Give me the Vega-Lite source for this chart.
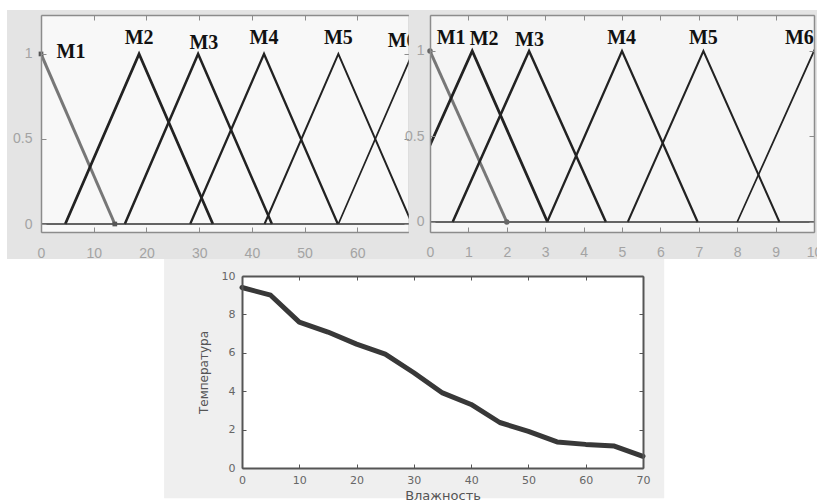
{
  "$schema": "https://vega.github.io/schema/vega-lite/v6.json",
  "padding": {"left": 6, "top": 9, "right": 0, "bottom": 0},
  "background": "white",
  "spacing": -2,
  "config": {"view": {"stroke": null}},
  "datasets": {
    "mfA": [
      {"mf": "M1", "x": 0, "y": 1}, {"mf": "M1", "x": 14, "y": 0},
      {"mf": "M2", "x": 4.6, "y": 0}, {"mf": "M2", "x": 18.6, "y": 1}, {"mf": "M2", "x": 32.6, "y": 0},
      {"mf": "M3", "x": 15.9, "y": 0}, {"mf": "M3", "x": 29.8, "y": 1}, {"mf": "M3", "x": 43.8, "y": 0},
      {"mf": "M4", "x": 28.3, "y": 0}, {"mf": "M4", "x": 42.3, "y": 1}, {"mf": "M4", "x": 56.3, "y": 0},
      {"mf": "M5", "x": 42.4, "y": 0}, {"mf": "M5", "x": 56.4, "y": 1}, {"mf": "M5", "x": 70.4, "y": 0},
      {"mf": "M6", "x": 56.4, "y": 0}, {"mf": "M6", "x": 70.4, "y": 1}, {"mf": "M6", "x": 84.4, "y": 0},
      {"mf": "base", "x": 0, "y": 0}, {"mf": "base", "x": 70, "y": 0}
    ],
    "labA": [
      {"t": "M1", "x": 5.7, "y": 0.976},
      {"t": "M2", "x": 18.6, "y": 1.06},
      {"t": "M3", "x": 30.9, "y": 1.03},
      {"t": "M4", "x": 42.3, "y": 1.06},
      {"t": "M5", "x": 56.4, "y": 1.06},
      {"t": "M6", "x": 68.5, "y": 1.04}
    ],
    "mfB": [
      {"mf": "M1", "x": 0, "y": 1}, {"mf": "M1", "x": 2, "y": 0},
      {"mf": "M2", "x": -0.9, "y": 0}, {"mf": "M2", "x": 1.1, "y": 1}, {"mf": "M2", "x": 3.06, "y": 0},
      {"mf": "M3", "x": 0.59, "y": 0}, {"mf": "M3", "x": 2.58, "y": 1}, {"mf": "M3", "x": 4.58, "y": 0},
      {"mf": "M4", "x": 3.05, "y": 0}, {"mf": "M4", "x": 5.0, "y": 1}, {"mf": "M4", "x": 6.97, "y": 0},
      {"mf": "M5", "x": 5.15, "y": 0}, {"mf": "M5", "x": 7.12, "y": 1}, {"mf": "M5", "x": 9.1, "y": 0},
      {"mf": "M6", "x": 8.0, "y": 0}, {"mf": "M6", "x": 10.0, "y": 1}, {"mf": "M6", "x": 12.0, "y": 0},
      {"mf": "base", "x": 0, "y": 0}, {"mf": "base", "x": 10, "y": 0}
    ],
    "labB": [
      {"t": "M1", "x": 0.55, "y": 1.04},
      {"t": "M2", "x": 1.41, "y": 1.035},
      {"t": "M3", "x": 2.59, "y": 1.03},
      {"t": "M4", "x": 4.99, "y": 1.04},
      {"t": "M5", "x": 7.12, "y": 1.04},
      {"t": "M6", "x": 9.62, "y": 1.04}
    ],
    "temp": [
      {"h": 0, "t": 9.4}, {"h": 5, "t": 9.0}, {"h": 10, "t": 7.6}, {"h": 15, "t": 7.08},
      {"h": 20, "t": 6.45}, {"h": 25, "t": 5.93}, {"h": 30, "t": 4.96}, {"h": 35, "t": 3.91},
      {"h": 40, "t": 3.31}, {"h": 45, "t": 2.37}, {"h": 50, "t": 1.91}, {"h": 55, "t": 1.36},
      {"h": 60, "t": 1.23}, {"h": 65, "t": 1.14}, {"h": 70, "t": 0.61}
    ],
    "one": [{}]
  },
  "vconcat": [
    {
      "bounds": "flush",
      "spacing": 21,
      "hconcat": [
        {
          "width": 368,
          "height": 217,
          "layer": [
            {
              "data": {"name": "one"},
              "mark": {"type": "rect", "fill": "#e4e4e4", "clip": false},
              "encoding": {
                "x": {"datum": -6.45, "type": "quantitative", "scale": {"domain": [0, 69.8], "nice": false, "zero": false}, "axis": null},
                "x2": {"datum": 69.8},
                "y": {"datum": -0.206, "type": "quantitative", "scale": {"domain": [-0.047, 1.229], "nice": false, "zero": false}, "axis": null},
                "y2": {"datum": 1.258}
              }
            },
            {
              "data": {"name": "one"},
              "mark": {"type": "rect", "fill": "#f8f8f8", "clip": false},
              "encoding": {
                "x": {"datum": 0, "type": "quantitative", "scale": {"domain": [0, 69.8], "nice": false, "zero": false},
                      "axis": {"orient": "top", "values": [0, 10, 20, 30, 40, 50, 60, 70], "labels": false, "title": null, "tickSize": -5, "tickColor": "#8c8c8c", "domainColor": "#8c8c8c", "domainWidth": 1.5, "grid": false, "zindex": 1}},
                "x2": {"datum": 69.8},
                "y": {"datum": -0.047, "type": "quantitative", "scale": {"domain": [-0.047, 1.229], "nice": false, "zero": false},
                      "axis": {"orient": "right", "values": [0, 0.5, 1], "labels": false, "title": null, "tickSize": -5, "tickColor": "#8c8c8c", "domainColor": "#8c8c8c", "domainWidth": 1.5, "grid": false, "zindex": 1}},
                "y2": {"datum": 1.229}
              }
            },
            {
              "data": {"name": "mfA"},
              "mark": {"type": "line", "clip": true},
              "encoding": {
                "x": {"field": "x", "type": "quantitative", "scale": {"domain": [0, 69.8], "nice": false, "zero": false},
                      "axis": {"orient": "bottom", "values": [0, 10, 20, 30, 40, 50, 60, 70], "format": "d", "title": null, "labelFont": "Liberation Sans", "labelFontSize": 14, "labelColor": "#a3a3a3", "labelPadding": 19, "labelFlush": false, "labelOverlap": false, "tickSize": -5, "tickColor": "#8c8c8c", "domainColor": "#8c8c8c", "domainWidth": 1.5, "grid": false, "zindex": 1}},
                "y": {"field": "y", "type": "quantitative", "scale": {"domain": [-0.047, 1.229], "nice": false, "zero": false},
                      "axis": {"orient": "left", "values": [0, 0.5, 1], "format": ".1~f", "title": null, "labelFont": "Liberation Sans", "labelFontSize": 14, "labelColor": "#a3a3a3", "labelPadding": 14, "labelFlush": false, "labelOverlap": false, "tickSize": -5, "tickColor": "#8c8c8c", "domainColor": "#8c8c8c", "domainWidth": 1.5, "grid": false, "zindex": 1}},
                "detail": {"field": "mf"},
                "color": {"field": "mf", "type": "nominal", "legend": null,
                          "scale": {"domain": ["M1", "M2", "M3", "M4", "M5", "M6", "base"], "range": ["#777777", "#222222", "#222222", "#222222", "#222222", "#222222", "#333333"]}},
                "strokeWidth": {"field": "mf", "type": "nominal", "legend": null,
                          "scale": {"domain": ["M1", "M2", "M3", "M4", "M5", "M6", "base"], "range": [3, 1.5, 1.5, 1.5, 1.5, 1.5, 3.5]}}
              }
            },
            {
              "data": {"name": "mfA"},
              "transform": [{"filter": "datum.mf === 'M1'"}],
              "mark": {"type": "point", "shape": "square", "filled": true, "size": 22, "color": "#555555", "opacity": 1},
              "encoding": {
                "x": {"field": "x", "type": "quantitative", "scale": {"domain": [0, 69.8], "nice": false, "zero": false}, "axis": null},
                "y": {"field": "y", "type": "quantitative", "scale": {"domain": [-0.047, 1.229], "nice": false, "zero": false}, "axis": null}
              }
            },
            {
              "data": {"name": "labA"},
              "mark": {"type": "text", "font": "Liberation Serif", "fontWeight": "bold", "fontSize": 20, "baseline": "alphabetic", "align": "center", "color": "#111111"},
              "encoding": {
                "x": {"field": "x", "type": "quantitative", "scale": {"domain": [0, 69.8], "nice": false, "zero": false}, "axis": null},
                "y": {"field": "y", "type": "quantitative", "scale": {"domain": [-0.047, 1.229], "nice": false, "zero": false}, "axis": null},
                "text": {"field": "t"}
              }
            }
          ],
          "resolve": {"axis": {"x": "independent", "y": "independent"}}
        },
        {
          "width": 384,
          "height": 217,
          "layer": [
            {
              "data": {"name": "one"},
              "mark": {"type": "rect", "fill": "#e4e4e4", "clip": false},
              "encoding": {
                "x": {"datum": -0.55, "type": "quantitative", "scale": {"domain": [0, 10], "nice": false, "zero": false}, "axis": null},
                "x2": {"datum": 10.1},
                "y": {"datum": -0.2164, "type": "quantitative", "scale": {"domain": [-0.0585, 1.2105], "nice": false, "zero": false}, "axis": null},
                "y2": {"datum": 1.24}
              }
            },
            {
              "data": {"name": "one"},
              "mark": {"type": "rect", "fill": "#f5f5f5", "clip": false},
              "encoding": {
                "x": {"datum": 0, "type": "quantitative", "scale": {"domain": [0, 10], "nice": false, "zero": false},
                      "axis": {"orient": "top", "values": [0, 1, 2, 3, 4, 5, 6, 7, 8, 9, 10], "labels": false, "title": null, "tickSize": -5, "tickColor": "#8c8c8c", "domainColor": "#8c8c8c", "domainWidth": 1.5, "grid": false, "zindex": 1}},
                "x2": {"datum": 10},
                "y": {"datum": -0.0585, "type": "quantitative", "scale": {"domain": [-0.0585, 1.2105], "nice": false, "zero": false},
                      "axis": {"orient": "right", "values": [0, 0.5, 1], "labels": false, "title": null, "tickSize": -5, "tickColor": "#8c8c8c", "domainColor": "#8c8c8c", "domainWidth": 1.5, "grid": false, "zindex": 1}},
                "y2": {"datum": 1.2105}
              }
            },
            {
              "data": {"name": "mfB"},
              "mark": {"type": "line", "clip": true},
              "encoding": {
                "x": {"field": "x", "type": "quantitative", "scale": {"domain": [0, 10], "nice": false, "zero": false},
                      "axis": {"orient": "bottom", "values": [0, 1, 2, 3, 4, 5, 6, 7, 8, 9, 10], "format": "d", "title": null, "labelFont": "Liberation Sans", "labelFontSize": 14, "labelColor": "#a3a3a3", "labelPadding": 18, "labelFlush": false, "labelOverlap": false, "tickSize": -5, "tickColor": "#8c8c8c", "domainColor": "#8c8c8c", "domainWidth": 1.5, "grid": false, "zindex": 1}},
                "y": {"field": "y", "type": "quantitative", "scale": {"domain": [-0.0585, 1.2105], "nice": false, "zero": false},
                      "axis": {"orient": "left", "values": [0, 0.5, 1], "format": ".1~f", "title": null, "labelFont": "Liberation Sans", "labelFontSize": 14, "labelColor": "#a3a3a3", "labelPadding": 11, "labelFlush": false, "labelOverlap": false, "tickSize": -5, "tickColor": "#8c8c8c", "domainColor": "#8c8c8c", "domainWidth": 1.5, "grid": false, "zindex": 1}},
                "detail": {"field": "mf"},
                "color": {"field": "mf", "type": "nominal", "legend": null,
                          "scale": {"domain": ["M1", "M2", "M3", "M4", "M5", "M6", "base"], "range": ["#777777", "#222222", "#222222", "#222222", "#222222", "#222222", "#333333"]}},
                "strokeWidth": {"field": "mf", "type": "nominal", "legend": null,
                          "scale": {"domain": ["M1", "M2", "M3", "M4", "M5", "M6", "base"], "range": [3, 1.5, 1.5, 1.5, 1.5, 1.5, 2.5]}}
              }
            },
            {
              "data": {"name": "mfB"},
              "transform": [{"filter": "datum.mf === 'M1'"}],
              "mark": {"type": "point", "shape": "circle", "filled": true, "size": 30, "color": "#666666", "opacity": 1},
              "encoding": {
                "x": {"field": "x", "type": "quantitative", "scale": {"domain": [0, 10], "nice": false, "zero": false}, "axis": null},
                "y": {"field": "y", "type": "quantitative", "scale": {"domain": [-0.0585, 1.2105], "nice": false, "zero": false}, "axis": null}
              }
            },
            {
              "data": {"name": "labB"},
              "mark": {"type": "text", "font": "Liberation Serif", "fontWeight": "bold", "fontSize": 20, "baseline": "alphabetic", "align": "center", "color": "#111111"},
              "encoding": {
                "x": {"field": "x", "type": "quantitative", "scale": {"domain": [0, 10], "nice": false, "zero": false}, "axis": null},
                "y": {"field": "y", "type": "quantitative", "scale": {"domain": [-0.0585, 1.2105], "nice": false, "zero": false}, "axis": null},
                "text": {"field": "t"}
              }
            }
          ],
          "resolve": {"axis": {"x": "independent", "y": "independent"}}
        }
      ]
    },
    {
      "bounds": "flush",
      "spacing": 5,
      "hconcat": [
        {
          "width": 196,
          "height": 192,
          "data": {"name": "one"},
          "mark": {"type": "text", "text": ""}
        },
        {
          "width": 401,
          "height": 192,
          "layer": [
            {
              "data": {"name": "one"},
              "mark": {"type": "rect", "fill": "#efefef", "clip": false},
              "encoding": {
                "x": {"datum": -13.6, "type": "quantitative", "scale": {"domain": [0, 70], "nice": false, "zero": false}, "axis": null},
                "x2": {"datum": 73.7},
                "y": {"datum": -1.58, "type": "quantitative", "scale": {"domain": [0, 10], "nice": false, "zero": false}, "axis": null},
                "y2": {"datum": 10.89}
              }
            },
            {
              "data": {"name": "one"},
              "mark": {"type": "rect", "fill": "#ffffff", "clip": false},
              "encoding": {
                "x": {"datum": 0, "type": "quantitative", "scale": {"domain": [0, 70], "nice": false, "zero": false},
                      "axis": {"orient": "top", "values": [0, 10, 20, 30, 40, 50, 60, 70], "labels": false, "title": null, "tickSize": -4, "tickColor": "#555555", "domainColor": "#555555", "domainWidth": 2, "grid": false, "zindex": 1}},
                "x2": {"datum": 70},
                "y": {"datum": 0, "type": "quantitative", "scale": {"domain": [0, 10], "nice": false, "zero": false},
                      "axis": {"orient": "right", "values": [0, 2, 4, 6, 8, 10], "labels": false, "title": null, "tickSize": -4, "tickColor": "#555555", "domainColor": "#555555", "domainWidth": 2, "grid": false, "zindex": 1}},
                "y2": {"datum": 10}
              }
            },
            {
              "data": {"name": "temp"},
              "mark": {"type": "line", "color": "#383838", "strokeWidth": 5, "strokeJoin": "round", "strokeCap": "round"},
              "encoding": {
                "x": {"field": "h", "type": "quantitative", "scale": {"domain": [0, 70], "nice": false, "zero": false},
                      "axis": {"orient": "bottom", "values": [0, 10, 20, 30, 40, 50, 60, 70], "format": "d", "title": "Влажность", "titleFont": "DejaVu Sans", "titleFontSize": 13, "titleFontWeight": "normal", "titleColor": "#555555", "titlePadding": 4, "labelFont": "DejaVu Sans", "labelFontSize": 11, "labelColor": "#666666", "labelPadding": 10, "labelFlush": false, "labelOverlap": false, "tickSize": -4, "tickColor": "#555555", "domainColor": "#555555", "domainWidth": 2, "grid": false, "zindex": 1}},
                "y": {"field": "t", "type": "quantitative", "scale": {"domain": [0, 10], "nice": false, "zero": false},
                      "axis": {"orient": "left", "values": [0, 2, 4, 6, 8, 10], "format": "d", "title": "Температура", "titleFont": "DejaVu Sans", "titleFontSize": 12, "titleFontWeight": "normal", "titleColor": "#555555", "titlePadding": 11, "labelFont": "DejaVu Sans", "labelFontSize": 11, "labelColor": "#666666", "labelPadding": 11, "labelFlush": false, "labelOverlap": false, "tickSize": -4, "tickColor": "#555555", "domainColor": "#555555", "domainWidth": 2, "grid": false, "zindex": 1}}
              }
            }
          ],
          "resolve": {"axis": {"x": "independent", "y": "independent"}}
        }
      ]
    }
  ]
}
